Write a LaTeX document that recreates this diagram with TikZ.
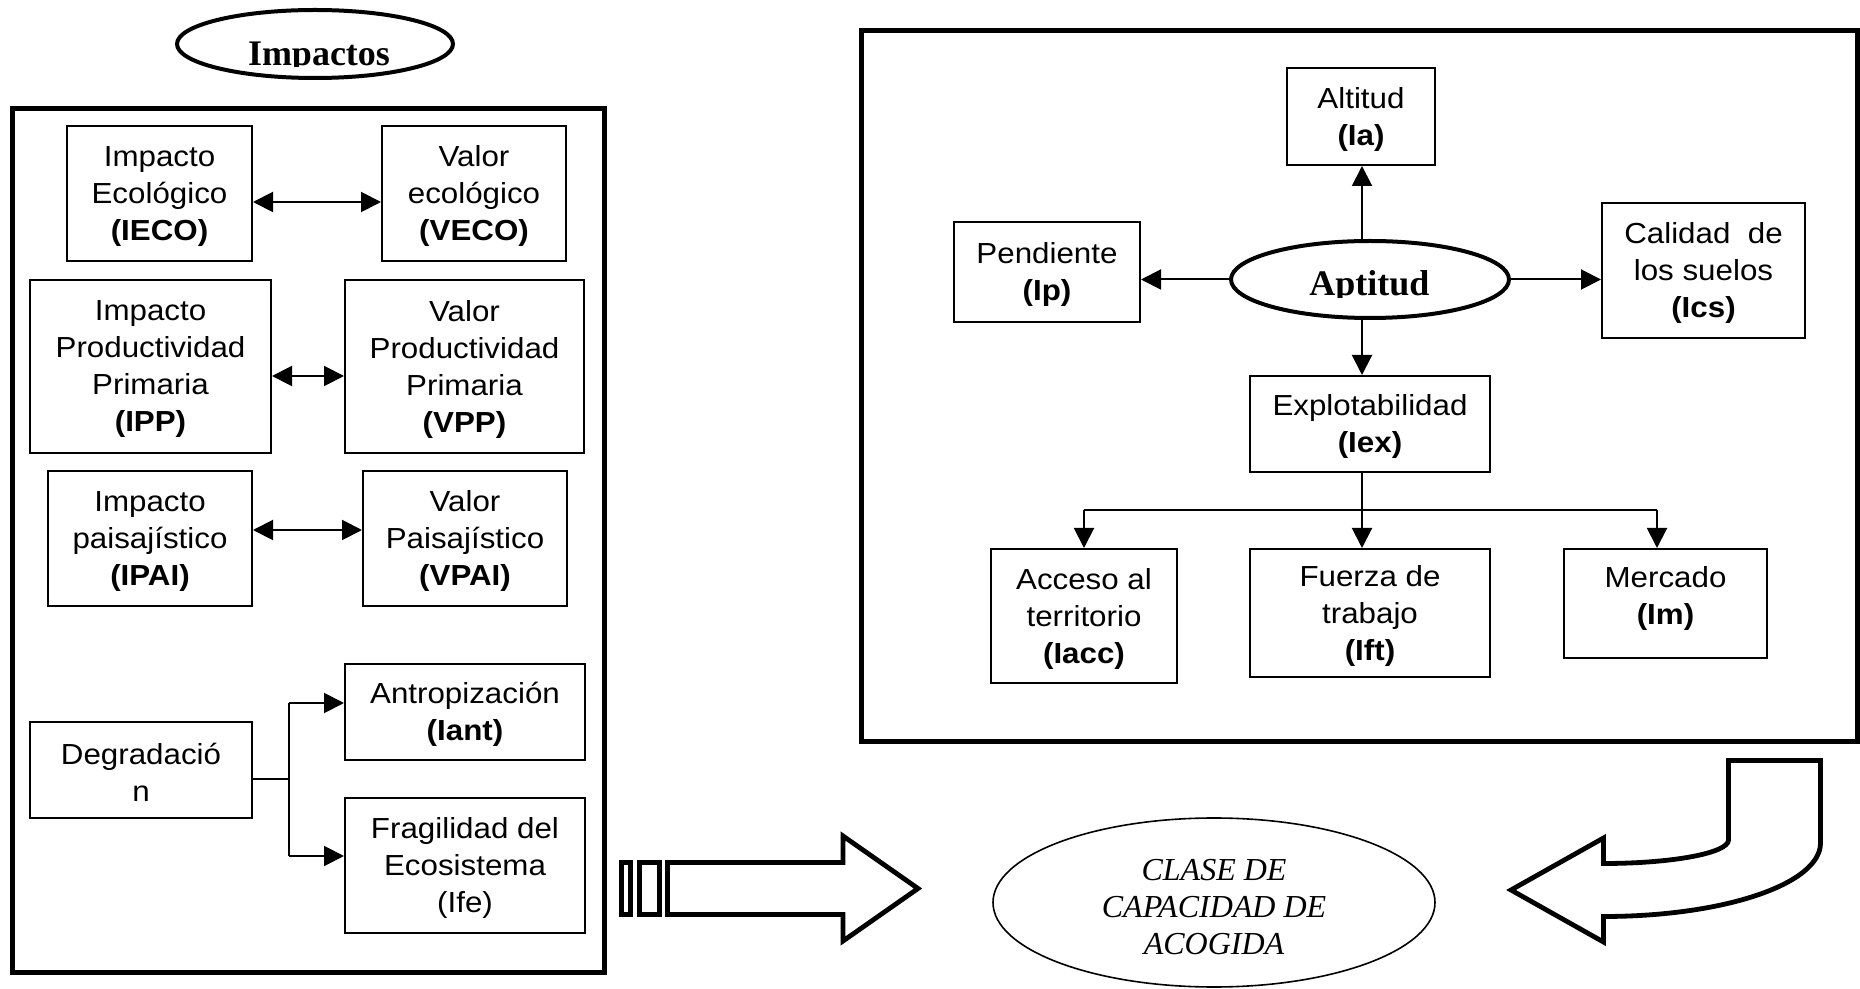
\documentclass[tikz,border=0pt]{standalone}
\usepackage{fontspec}
\setmainfont{Liberation Sans}[FakeStretch=1.08]
\newfontfamily\timesfont{Liberation Serif}
\usetikzlibrary{arrows.meta,fit,shapes.geometric}

\tikzset{
  panel/.style={draw, line width=2.5pt, inner sep=0pt},
  item/.style={draw, line width=1pt, inner sep=0pt},
  itemtext/.style={inner sep=0pt, align=center,
    font=\fontsize{14.5pt}{18.5pt}\selectfont},
  bubble/.style={draw, ellipse, line width=2pt, inner sep=0pt},
  heading/.style={font=\timesfont\bfseries\fontsize{18pt}{20pt}\selectfont,
    inner sep=0pt, anchor=base},
  link/.style={line width=1pt},
  tip/.style={link, -{Triangle[length=10pt,width=10pt]}},
  both/.style={link, {Triangle[length=10pt,width=10pt]}-{Triangle[length=10pt,width=10pt]}},
  blockarrow/.style={draw, line width=2.4pt, line join=miter, fill=white},
}

% a framed box spanning two corners, with its centred text as a second node
\newcommand\itembox[6]{%
  \node[item, fit={(#2,#3) (#4,#5)}] (#1) {};
  \node[itemtext] (#1text) at ([yshift=-1.3pt]#1.center) {#6};}

\begin{document}
\begin{tikzpicture}[x=0.5pt, y=-0.5pt]
\fill[white] (0,0) rectangle (1860,989);
\useasboundingbox (0,0) rectangle (1860,989);

% ---------------- left panel: impacts ----------------
\node[bubble, minimum width=138pt, minimum height=34pt] (impactos) at (315,44) {};
\begin{scope}
  \clip (160,20) rectangle (470,67);
  \node[heading] (impactostext) at (319,65.5) {Impactos};
\end{scope}

\node[panel, fit={(12.5,108.5) (604,972.5)}] (leftpanel) {};

\itembox{ieco}{67}{126}{252}{261}{Impacto\\Ecológico\\\textbf{(IECO)}}
\itembox{veco}{382}{126}{566}{261}{Valor\\ecológico\\\textbf{(VECO)}}
\itembox{ipp}{30}{280}{271}{453}{Impacto\\Productividad\\Primaria\\\textbf{(IPP)}}
\itembox{vpp}{345}{280}{584}{453}{Valor\\Productividad\\Primaria\\\textbf{(VPP)}}
\itembox{ipai}{48}{471}{252}{606}{Impacto\\paisajístico\\\textbf{(IPAI)}}
\itembox{vpai}{363}{471}{567}{606}{Valor\\Paisajístico\\\textbf{(VPAI)}}
\itembox{degr}{30}{722}{252}{818}{Degradació\\n}
\itembox{antrop}{345}{664}{585}{760}{Antropización\\\textbf{(Iant)}}
\itembox{frag}{345}{798}{585}{933}{Fragilidad del\\Ecosistema\\(Ife)}

\draw[both] (ieco.east |- 0,202) -- (veco.west |- 0,202);
\draw[both] (ipp.east |- 0,376) -- (vpp.west |- 0,376);
\draw[both] (ipai.east |- 0,530) -- (vpai.west |- 0,530);

\coordinate (fork) at (289,779);
\coordinate (forkup) at (289,703);
\coordinate (forkdown) at (289,856);
\draw[link] (degr.east |- fork) -- (fork);
\draw[link] (forkup) -- (forkdown);
\draw[tip] (forkup) -- (antrop.west |- forkup);
\draw[tip] (forkdown) -- (frag.west |- forkdown);

% ---------------- right panel: aptitude ----------------
\node[panel, fit={(861,30.5) (1857.5,741.5)}] (rightpanel) {};

\itembox{altitud}{1287}{68}{1435}{165}{Altitud\\\textbf{(Ia)}}
\itembox{pend}{954}{222}{1140}{322}{Pendiente\\\textbf{(Ip)}}
\itembox{calidad}{1602}{203}{1805}{338}{Calidad~ de\\los suelos\\\textbf{(Ics)}}
\node[bubble, minimum width=139pt, minimum height=38.5pt] (apt) at (1370,279.5) {};
\begin{scope}
  \clip (1240,250) rectangle (1500,298);
  \node[heading] (apttext) at (1369.5,296) {Aptitud};
\end{scope}
\itembox{expl}{1250}{376}{1490}{472}{Explotabilidad\\\textbf{(Iex)}}
\itembox{acceso}{991}{549}{1177}{683}{Acceso al\\territorio\\\textbf{(Iacc)}}
\itembox{fuerza}{1250}{549}{1490}{677}{Fuerza de\\trabajo\\\textbf{(Ift)}}
\node[item, fit={(1564,549) (1767,658)}] (mercado) {};
\node[itemtext] (mercadotext) at (1665.5,599) {Mercado\\\textbf{(Im)}};

\coordinate (spine) at (1362,0);
\draw[tip] (apt.north -| spine) -- (altitud.south -| spine);
\draw[tip] (apt.west) -- (pend.east |- apt.west);
\draw[tip] (apt.east) -- (calidad.west |- apt.east);
\draw[tip] (apt.south -| spine) -- (expl.north -| spine);
\draw[tip] (expl.south -| spine) -- (fuerza.north -| spine);
\coordinate (bl) at (1084,510);
\coordinate (br) at (1657,510);
\draw[link] (bl) -- (br);
\draw[tip] (bl) -- (acceso.north -| bl);
\draw[tip] (br) -- (mercado.north -| br);

% ---------------- result ----------------
\node[draw, ellipse, line width=0.8pt, inner sep=0pt,
      minimum width=221pt, minimum height=84.5pt] (clase) at (1214,902.5) {};
\node[font=\timesfont\itshape\fontsize{16pt}{18.5pt}\selectfont, align=center,
      inner sep=0pt] (clasetext) at (1214,907) {CLASE DE\\CAPACIDAD DE\\ACOGIDA};

% striped block arrow pointing right
\draw[blockarrow] (621.5,862.5) rectangle (630.5,914.5);
\draw[blockarrow] (639.5,862.5) rectangle (659.5,914.5);
\draw[blockarrow] (667.5,862.5) -- (843,862.5) -- (843,836) -- (918,888.5)
  -- (843,941) -- (843,914.5) -- (667.5,914.5) -- cycle;

% curved block arrow turning left
\draw[blockarrow] (1728.5,760.5) -- (1820.5,760.5) -- (1820.5,843)
  .. controls (1820.5,884) and (1724,916.5) .. (1603.5,916.5)
  -- (1603.5,942) -- (1511,890) -- (1603.5,838) -- (1603.5,863.5)
  .. controls (1672.5,863.5) and (1728.5,853) .. (1728.5,840) -- cycle;
\end{tikzpicture}
\end{document}
